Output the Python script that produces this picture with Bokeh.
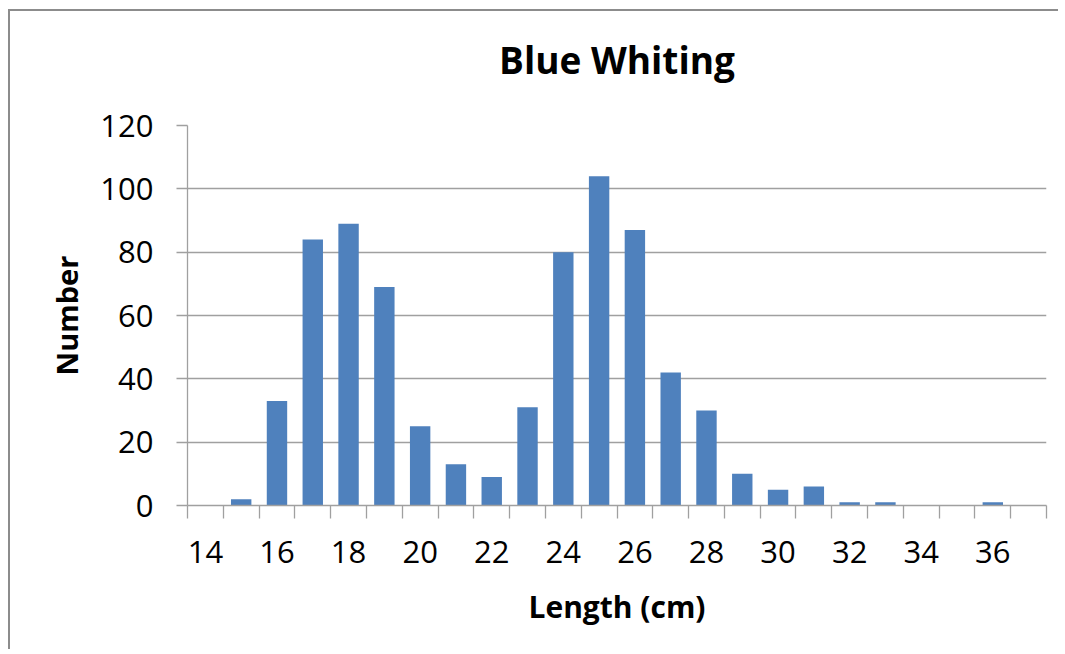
from bokeh.plotting import figure
from bokeh.models import FixedTicker, ColumnDataSource, Title
from bokeh.embed import file_html
from bokeh.resources import INLINE

lengths = list(range(14, 38))
counts = [0, 2, 33, 84, 89, 69, 25, 13, 9, 31, 80, 104, 87, 42, 30, 10, 5, 6, 1, 1, 0, 0, 1, 0]
x_labels = list(range(14, 37, 2))
y_ticks = [0, 20, 40, 60, 80, 100, 120]

src = ColumnDataSource(dict(x=lengths, top=counts))

p = figure(width=1050, height=640, output_backend="svg", toolbar_location=None,
           x_range=(13.5, 37.5), y_range=(0, 120),
           min_border_left=177, min_border_top=114, min_border_right=14, min_border_bottom=146,
           background_fill_color="white", border_fill_color="white",
           styles={"border-top": "2px solid #8c8c8c", "border-left": "2px solid #8c8c8c",
                   "margin-top": "9px", "margin-left": "8px"})

p.vbar(x="x", top="top", width=0.57, bottom=0, source=src, fill_color="#4f81bd", line_color=None)

font = "Open Sans"
t = Title(text="Blue Whiting", align="center", text_font=font, text_font_size="37px",
          text_font_style="bold", text_color="black", standoff=40,
          padding=dict(left=0, right=0, top=0, bottom=21))
p.add_layout(t, "above")

p.outline_line_color = None
p.xgrid.grid_line_color = None
p.ygrid.grid_line_color = "#a0a0a0"
p.ygrid.grid_line_width = 1.3
p.ygrid.ticker = FixedTicker(ticks=y_ticks)

xa = p.below[0]
xa.ticker = FixedTicker(ticks=x_labels, minor_ticks=[v - 0.5 for v in lengths] + [37.5])
xa.major_tick_out = 0
xa.major_tick_in = 0
xa.minor_tick_out = 13
xa.minor_tick_in = 0
xa.minor_tick_line_color = "#a0a0a0"
xa.minor_tick_line_width = 1.3
xa.axis_line_color = "#a0a0a0"
xa.axis_line_width = 1.3
xa.major_label_text_font = font
xa.major_label_text_font_size = "31px"
xa.major_label_text_color = "black"
xa.major_label_standoff = 22
xa.axis_label = "Length (cm)"
xa.axis_label_text_font = font
xa.axis_label_text_font_size = "30px"
xa.axis_label_text_font_style = "bold"
xa.axis_label_text_color = "black"
xa.axis_label_standoff = 20

ya = p.yaxis[0]
ya.ticker = FixedTicker(ticks=y_ticks)
ya.major_tick_out = 11
ya.major_tick_in = 0
ya.minor_tick_line_color = None
ya.major_tick_line_color = "#a0a0a0"
ya.major_tick_line_width = 1.3
ya.axis_line_color = "#a0a0a0"
ya.axis_line_width = 1.3
ya.major_label_text_font = font
ya.major_label_text_font_size = "31px"
ya.major_label_text_color = "black"
ya.major_label_standoff = 23
ya.axis_label = "Number"
ya.axis_label_text_font = font
ya.axis_label_text_font_size = "29px"
ya.axis_label_text_font_style = "bold"
ya.axis_label_text_color = "black"
ya.axis_label_standoff = 11

open("out.html", "w").write(file_html(p, INLINE))
